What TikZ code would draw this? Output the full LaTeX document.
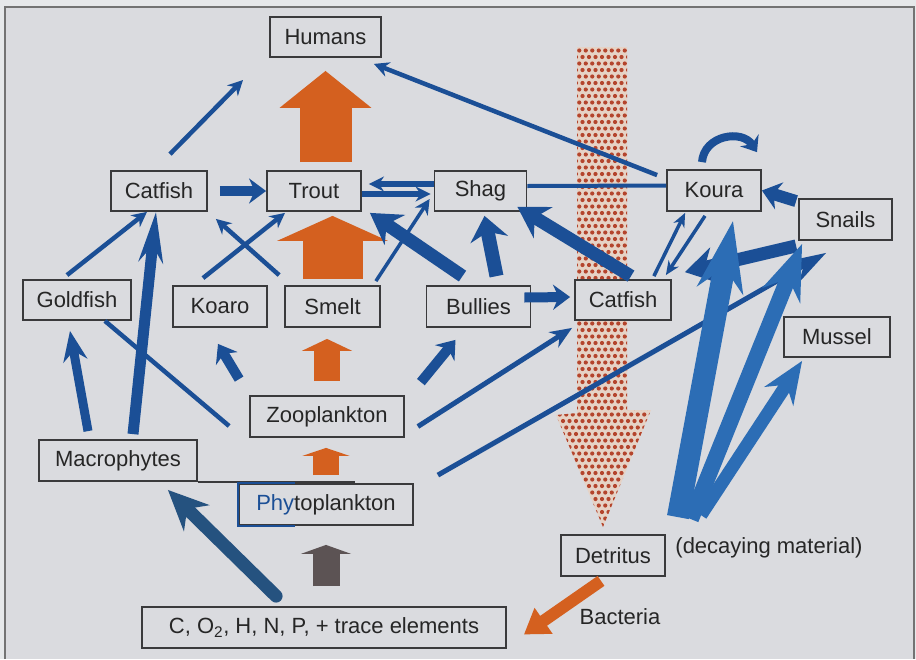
\documentclass[tikz,border=0pt]{standalone}
\usepackage{fontspec}
\setmainfont{Liberation Sans}
\usetikzlibrary{arrows.meta, calc}

\definecolor{bg}{HTML}{DADBDF}
\definecolor{edge}{HTML}{E6E8EA}
\definecolor{boxline}{HTML}{3A3A3C}
\definecolor{fwblue}{HTML}{1B4F96}
\definecolor{fanblue}{HTML}{2C6DB5}
\definecolor{rootblue}{HTML}{25527F}
\definecolor{fworange}{HTML}{D4601F}
\definecolor{nutgray}{HTML}{5C5354}
\definecolor{dotred}{HTML}{B4452D}
\definecolor{dotbg}{HTML}{E6D3C6}

\begin{document}
\begin{tikzpicture}[x=1pt, y=-1pt, >=Stealth, font=\fontsize{22}{26}\selectfont,
  box/.style={draw=boxline, line width=1.8pt, fill=bg, minimum height=40pt, inner sep=0pt, text=black!85},
  link/.style={draw=fwblue, line width=4.5pt},
  feed/.style={link, -{Stealth[length=15pt, width=15pt]}},
  midfeed/.style={link, line width=10pt, -{Stealth[length=17pt, width=25pt]}},
  bigfeed/.style={link, line width=13pt, -{Stealth[length=30pt, width=36pt]}},
  fan/.style={draw=fanblue},
  block/.style={draw=fworange}]

  % frame
  \useasboundingbox (0,0) rectangle (916,659);
  \fill[edge] (0,0) rectangle (916,659);
  \fill[bg] (6,8) rectangle (913,659);
  \draw[black!55, line width=2pt] (5,659) -- (5,7) -- (914,7) -- (914,659);

  % detritus rain
  \begin{scope}
    \clip (577,47) -- (627,47) -- (627,410) -- (651,410) -- (603,527) -- (556,415) -- (577,413) -- cycle;
    \fill[dotbg] (550,40) rectangle (660,530);
    \foreach \row in {0,...,76} {
      \foreach \col in {0,...,16} {
        \fill[dotred] ({550+6.5*\col+3.25*mod(\row,2)}, {44+6.5*\row}) circle (2.1pt);
      }
    }
  \end{scope}

  % nodes
  \node[box, minimum width=111pt] (humans) at (325.5,37) {Humans};
  \node[box, minimum width=96pt] (catfishA) at (159,191) {Catfish};
  \node[box, minimum width=94pt] (trout) at (314,191) {Trout};
  \node[box, minimum width=92pt] (shag) at (480.5,191) {Shag};
  \node[box, minimum width=94pt, minimum height=41pt] (koura) at (714,190.5) {Koura};
  \node[box, minimum width=93pt, minimum height=41pt] (snails) at (845.5,219.5) {Snails};
  \node[box, minimum width=108pt] (goldfish) at (77,300) {Goldfish};
  \node[box, minimum width=94pt, minimum height=41pt] (koaro) at (220,306.5) {Koaro};
  \node[box, minimum width=95pt, minimum height=41pt] (smelt) at (332.5,306.5) {Smelt};
  \node[box, minimum width=104pt, minimum height=41pt] (bullies) at (478.5,306.5) {Bullies};
  \node[box, minimum width=96pt] (catfishB) at (623,300) {Catfish};
  \node[box, minimum width=106pt] (mussel) at (837,337) {Mussel};
  \node[box, minimum width=154pt, minimum height=41pt] (zoo) at (327,416.5) {Zooplankton};
  \node[box, minimum width=158pt, minimum height=41pt] (macro) at (118,460.5) {Macrophytes};
  \node[box, minimum width=174pt, minimum height=41pt] (phyto) at (326,504.5) {{\color{fwblue}Phy}toplankton};
  \node[box, minimum width=364pt, minimum height=41pt] (chem) at (324,627.5) {C, O\textsubscript{2}, H, N, P, + trace elements};
  \node[box, minimum width=104pt, minimum height=41pt] (detritus) at (613,555.5) {Detritus};
  \node[anchor=west, text=black!85] (decay) at ($(detritus.east)+(6,-8)$) {(decaying material)};
  \node[text=black!85] (bact) at ($(detritus.south)+(7,40)$) {Bacteria};

  \draw[boxline, line width=1.8pt] (macro.south east) -- ++(157,0);
  \draw[fwblue, line width=1.8pt] ($(phyto.north west)+(57,0)$) -- (phyto.north west)
    -- (phyto.south west) -- ++(57,0);
  \coordinate (toHum) at (243,80);

  % energy flow up the middle
  \draw[block, line width=52pt, -{Triangle[length=37pt, width=90pt]}, shorten <=8pt, shorten >=13pt]
    (humans.south |- trout.north) -- (humans.south);
  \draw[block, line width=60pt, -{Triangle[length=25pt, width=110pt]}, shorten <=6pt, shorten >=4pt]
    (smelt.north) -- (smelt.north |- trout.south);
  \draw[block, line width=26pt, -{Triangle[length=12pt, width=50pt]}, shorten <=14pt, shorten >=11pt]
    (zoo.north) -- (zoo.north |- smelt.south);
  \draw[block, line width=26pt, -{Triangle[length=8pt, width=47pt]}, shorten <=8pt, shorten >=10pt]
    (phyto.north) -- (phyto.north |- zoo.south);
  \draw[nutgray, line width=27pt, -{Triangle[length=9pt, width=50pt]}, shorten <=20pt, shorten >=19pt]
    (phyto.south |- chem.north) -- (phyto.south);
  \draw[block, line width=12pt, -{Triangle[length=24pt, width=30pt]}]
    ($(detritus.south)+(-12,4)$) -- ($(chem.east)+(17,7)$);

  % who eats whom
  \draw[feed] ($(catfishA.north)+(11,-16)$) -- (toHum);
  \draw[feed] ($(koura.north west)+(-9,6)$) -- ($(humans.south east)+(-8,6)$);
  \draw[midfeed] ($(catfishA.east)+(12,0)$) -- (trout.west);
  \draw[feed, line width=6pt] ($(shag.west)+(0,-7)$) -- ($(trout.east)+(7,-7)$);
  \draw[feed, line width=6pt] ($(trout.east)+(0,3)$) -- ($(shag.west)+(-3,3)$);
  \draw[link, line width=4pt] ($(koura.west)+(0,-5)$) -- ($(shag.east)+(0,-5)$);
  \draw[feed] ($(goldfish.north)+(-10,-4)$) -- ($(catfishA.south)+(-12,0)$);
  \draw[link, line width=11pt, -{Stealth[length=50pt, width=24pt]}]
    ($(macro.north)+(15,-5)$) -- ($(catfishA.south)+(-3,0)$);
  \draw[link, line width=9pt, -{Stealth[length=30pt, width=24pt]}]
    ($(macro.north)+(-30,-8)$) -- ($(goldfish.south)+(-7,10)$);
  \draw[feed] ($(koaro.north)+(-17,-7)$) -- ($(trout.south)+(-29,1)$);
  \draw[feed] ($(smelt.north west)+(-5,-10)$) -- ($(catfishA.south east)+(8,7)$);
  \draw[feed, line width=3.5pt] ($(smelt.north east)+(-5,-4)$) -- ($(shag.west)+(-4,8)$);
  \draw[bigfeed] ($(bullies.north)+(-16,-9)$) -- ($(trout.south east)+(8,1)$);
  \draw[bigfeed, line width=14pt, -{Stealth[length=24pt, width=38pt]}]
    ($(bullies.north)+(18,-9)$) -- ($(shag.south)+(4,4)$);
  \draw[midfeed] ($(bullies.east)+(-7,-9)$) -- ($(catfishB.west)+(-4,-3)$);
  \draw[bigfeed] ($(catfishB.north)+(8,-3)$) -- ($(shag.south east)+(-10,-5)$);
  \draw[feed, line width=3.5pt, -{Stealth[length=14pt, width=12pt]}]
    ($(catfishB.north east)+(-18,-3)$) -- ($(koura.south west)+(19,1)$);
  \draw[feed, line width=3.5pt, -{Stealth[length=14pt, width=12pt]}]
    ($(koura.south)+(-9,4)$) -- ($(catfishB.north east)+(-6,-4)$);
  \draw[midfeed, line width=8pt, -{Stealth[length=14pt, width=22pt]}]
    ($(koura.north)+(-12,-7)$) .. controls ($(koura.north)+(-10,-34)$) and ($(koura.north)+(28,-40)$) .. ($(koura.north)+(43,-17)$);
  \draw[midfeed, line width=12pt, -{Stealth[length=18pt, width=28pt]}]
    ($(snails.north west)+(-2,3)$) -- (koura.east);
  \draw[bigfeed] ($(snails.south west)+(-2,5)$) -- ($(catfishB.north east)+(13,-7)$);
  \draw[feed, line width=5pt, -{Stealth[length=38pt, width=24pt]}]
    ($(phyto.north east)+(24,-8)$) -- ($(snails.south west)+(28,12)$);
  \draw[feed, line width=5pt, -{Stealth[length=22pt, width=18pt]}]
    ($(zoo.east)+(13,10)$) -- ($(catfishB.south west)+(-2,7)$);
  \draw[midfeed] ($(zoo.north east)+(16,-13)$) -- ($(bullies.south)+(-23,12)$);
  \draw[midfeed] ($(zoo.north west)+(-10,-16)$) -- ($(koaro.south)+(-2,16)$);
  \draw[link] ($(goldfish.south east)+(-27,0)$) -- ($(zoo.west)+(-20,9.5)$);
  \draw[rootblue, line width=13pt, line cap=round, -{Stealth[length=40pt, width=36pt]}]
    ($(chem.north west)+(135,-10)$) -- ($(macro.south east)+(-30,8)$);

  % detritus feeders
  \draw[fan, line width=22pt, -{Stealth[length=70pt, width=46pt]}]
    ($(detritus.north east)+(12,-17)$) -- ($(koura.south)+(19,9)$);
  \draw[fan, line width=16pt, -{Stealth[length=55pt, width=40pt]}]
    ($(detritus.north east)+(25,-15)$) -- ($(snails.south west)+(4,3)$);
  \draw[fan, line width=13pt, -{Stealth[length=42pt, width=34pt]}]
    ($(detritus.north east)+(35,-19)$) -- ($(mussel.south west)+(19,3)$);
\end{tikzpicture}
\end{document}
